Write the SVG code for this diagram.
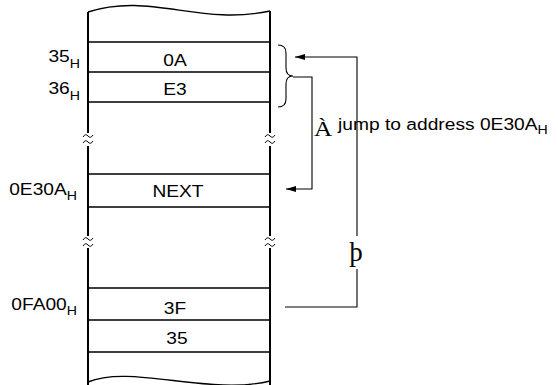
<svg xmlns="http://www.w3.org/2000/svg" width="558" height="385" viewBox="0 0 558 385">
<style>
.s{font-family:"Liberation Sans",Arial,sans-serif;font-size:17px;fill:#000}
.sub{font-size:12.5px}
.r{font-family:"Liberation Serif","Times New Roman",serif;fill:#000}
.vl{stroke:#000;stroke-width:2;fill:none}
.hl{stroke:#000;stroke-width:1.3;fill:none}
.wv{stroke:#000;stroke-width:1.4;fill:none}
.br{stroke:#000;stroke-width:1;fill:none}
.cn{stroke:#000;stroke-width:1.1;fill:none}
</style>
<defs>
<marker id="ah" viewBox="0 0 10 6" refX="10" refY="3" markerWidth="10" markerHeight="6" markerUnits="userSpaceOnUse" orient="auto">
<path d="M0,0 L10,3 L0,6 Z" fill="#000"/>
</marker>
</defs>
<g id="memory">
<path class="wv" d="M88,12 C150,-8 200,26 270,11"/>
<path class="wv" d="M88,382 C130,364 210,396 270,381"/>
<path class="vl" d="M88,12 V133 M88,146 V236 M88,248 V385"/>
<path class="vl" d="M270,11 V133 M270,146 V236 M270,248 V385"/>
<path class="br" d="M83,137 q2.5,-4 5,-1 q2.5,3 5,-1 M83,143 q2.5,-4 5,-1 q2.5,3 5,-1"/>
<path class="br" d="M265,137 q2.5,-4 5,-1 q2.5,3 5,-1 M265,143 q2.5,-4 5,-1 q2.5,3 5,-1"/>
<path class="br" d="M83,240 q2.5,-4 5,-1 q2.5,3 5,-1 M83,246 q2.5,-4 5,-1 q2.5,3 5,-1"/>
<path class="br" d="M265,240 q2.5,-4 5,-1 q2.5,3 5,-1 M265,246 q2.5,-4 5,-1 q2.5,3 5,-1"/>
<path class="hl" d="M88,42 H270 M88,72 H270 M88,102 H270 M88,174 H270 M88,207 H270 M88,288 H270 M88,320 H270 M88,352 H270"/>
</g>
<g id="cell-0A"><text class="s" text-anchor="middle" transform="translate(175,65.5) scale(1.13,1)">0A</text></g>
<g id="cell-E3"><text class="s" text-anchor="middle" transform="translate(175,95) scale(1.13,1)">E3</text></g>
<g id="cell-NEXT"><text class="s" text-anchor="middle" transform="translate(178,196.5) scale(1.13,1)">NEXT</text></g>
<g id="cell-3F"><text class="s" text-anchor="middle" transform="translate(175,314) scale(1.13,1)">3F</text></g>
<g id="cell-35"><text class="s" text-anchor="middle" transform="translate(177,344) scale(1.13,1)">35</text></g>
<g id="addr-35"><text class="s" text-anchor="end" transform="translate(80,61.5) scale(1.13,1)">35<tspan class="sub" dy="6">H</tspan></text></g>
<g id="addr-36"><text class="s" text-anchor="end" transform="translate(80,93.5) scale(1.13,1)">36<tspan class="sub" dy="6">H</tspan></text></g>
<g id="addr-0E30A"><text class="s" text-anchor="end" transform="translate(77,195) scale(1.13,1)">0E30A<tspan class="sub" dy="5">H</tspan></text></g>
<g id="addr-0FA00"><text class="s" text-anchor="end" transform="translate(77,310) scale(1.13,1)">0FA00<tspan class="sub" dy="5">H</tspan></text></g>
<g id="connectors">
<path class="cn" d="M278,45 q8,0 8,8 v15 q0,8 7,8 q-7,0 -7,8 v15 q0,8 -8,8"/>
<path class="cn" marker-end="url(#ah)" d="M293,77 H312 V189 H286"/>
<path class="cn" d="M285,307 H357 V269"/>
<path class="cn" marker-end="url(#ah)" d="M357,236 V57 H295"/>
</g>
<g id="label-jump">
<text class="r" font-size="22" transform="translate(314,136) scale(1.15,1)">À</text>
<text class="s" transform="translate(338,130) scale(1.13,1)">jump to address 0E30A<tspan class="sub" dy="4">H</tspan></text>
</g>
<g id="label-thorn"><text class="r" font-size="27" text-anchor="middle" x="356" y="261">þ</text></g>
</svg>
